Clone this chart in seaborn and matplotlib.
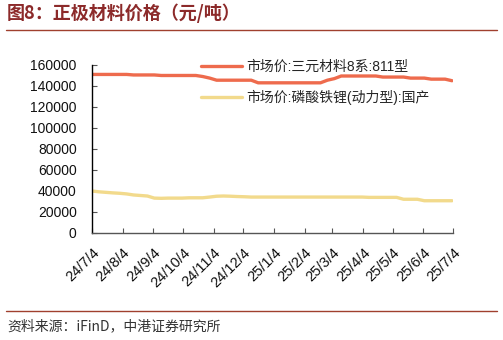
import numpy as np
import pandas as pd
import matplotlib
matplotlib.use("Agg")
import matplotlib.pyplot as plt
import seaborn as sns
from matplotlib.lines import Line2D

# ---- data (weekly, 2024-07-04 .. 2025-07-03) ----
start_date = "2024-07-04"
n_weeks = 53
ternary_811 = [151000, 151000, 151000, 151000, 151000, 151000, 150500, 150500, 150500, 150500,
               150000, 150000, 150000, 150000, 150000, 150000, 149000, 147500, 145500, 145500,
               145500, 145500, 145500, 145500, 143000, 143000, 143000, 143000, 143000, 143000,
               143000, 143000, 143000, 143000, 145500, 147000, 149500, 149500, 149500, 149500,
               149500, 149500, 148500, 148500, 148500, 148500, 147500, 147500, 147500, 146500,
               146500, 146500, 145000]
lfp_power = [39800, 39000, 38500, 38000, 37600, 37000, 36000, 35500, 35000, 33000,
             32800, 33000, 33000, 33000, 33300, 33300, 33300, 34000, 34800, 35000,
             34800, 34500, 34300, 34000, 34000, 34000, 34000, 34000, 34000, 34000,
             34000, 34000, 34000, 34000, 34000, 34000, 34000, 34000, 34000, 34000,
             33700, 33700, 33700, 33700, 33700, 31900, 31900, 31900, 30500, 30500,
             30500, 30500, 30500]
series_names = ["市场价:三元材料8系:811型", "市场价:磷酸铁锂(动力型):国产"]
tick_dates = ["2024-07-04", "2024-08-04", "2024-09-04", "2024-10-04", "2024-11-04",
              "2024-12-04", "2025-01-04", "2025-02-04", "2025-03-04", "2025-04-04",
              "2025-05-04", "2025-06-04", "2025-07-04"]
tick_labels = ["24/7/4", "24/8/4", "24/9/4", "24/10/4", "24/11/4", "24/12/4", "25/1/4",
               "25/2/4", "25/3/4", "25/4/4", "25/5/4", "25/6/4", "25/7/4"]
y_ticks = [0, 20000, 40000, 60000, 80000, 100000, 120000, 140000, 160000]
title = "图8：正极材料价格（元/吨）"
source = "资料来源：iFinD，中港证券研究所"

dates = pd.date_range(start_date, periods=n_weeks, freq="7D")
df = pd.DataFrame({
    "date": list(dates) * 2,
    "value": ternary_811 + lfp_power,
    "series": [series_names[0]] * n_weeks + [series_names[1]] * n_weeks,
})

sns.set_theme(style="white")
plt.rcParams["font.family"] = ["Liberation Sans", "Noto Sans CJK SC", "DejaVu Sans"]

colors = ["#EE6B4D", "#F2DA8C"]
fig = plt.figure(figsize=(5.03, 3.40), dpi=100)
ax = fig.add_axes([92 / 503, 1 - 232.7 / 340, (453 - 92) / 503, (232.7 - 65) / 340])
sns.lineplot(data=df, x="date", y="value", hue="series", palette=colors,
             linewidth=2.4, ax=ax, legend=False)

ax.set_xlim(pd.Timestamp("2024-07-04"), pd.Timestamp("2025-07-04"))
ax.set_ylim(0, 160000)
ax.set_yticks(y_ticks)
ax.set_yticklabels([str(v) for v in y_ticks], fontsize=10, color="#111111")
ax.set_xticks([pd.Timestamp(d) for d in tick_dates])
ax.set_xticklabels(tick_labels, rotation=45, ha="right", rotation_mode="anchor",
                   fontsize=10.5, color="#111111")
ax.set_xlabel("")
ax.set_ylabel("")
for s in ["top", "right"]:
    ax.spines[s].set_visible(False)
ax.spines["left"].set_color("#000000")
ax.spines["bottom"].set_color("#555555")
ax.spines["left"].set_linewidth(1.0)
ax.spines["bottom"].set_linewidth(1.0)
ax.tick_params(axis="both", direction="in", length=3.5, width=0.8, colors="#555555",
               labelcolor="#111111", left=True, bottom=True)
ax.tick_params(axis="y", pad=11)
ax.tick_params(axis="x", pad=9)
ax.grid(False)

handles = [Line2D([0], [0], color=c, lw=2.4) for c in colors]
ax.legend(handles, series_names, loc="upper left", bbox_to_anchor=(0.295, 1.05),
          frameon=False, handlelength=2.9, handletextpad=0.35,
          labelspacing=1.15, borderpad=0.2, borderaxespad=0,
          prop={"family": ["Liberation Sans", "Noto Sans CJK SC"], "size": 10})

fig.text(7 / 503, 1 - 13 / 340, title, fontsize=13, fontweight="bold", color="#8C2A2A",
         ha="left", va="center", family=["Noto Sans CJK SC", "DejaVu Sans"])
fig.add_artist(Line2D([6 / 503, 497 / 503], [1 - 30 / 340, 1 - 30 / 340],
                      color="#A0402E", lw=1.0, transform=fig.transFigure))
fig.add_artist(Line2D([6 / 503, 497 / 503], [1 - 311 / 340, 1 - 311 / 340],
                      color="#A0402E", lw=1.0, transform=fig.transFigure))
fig.text(7 / 503, 1 - 326 / 340, source, fontsize=10, style="italic", color="#333333",
         ha="left", va="center", family=["Noto Sans CJK SC", "DejaVu Sans"])

fig.savefig("out.png", dpi=100)
